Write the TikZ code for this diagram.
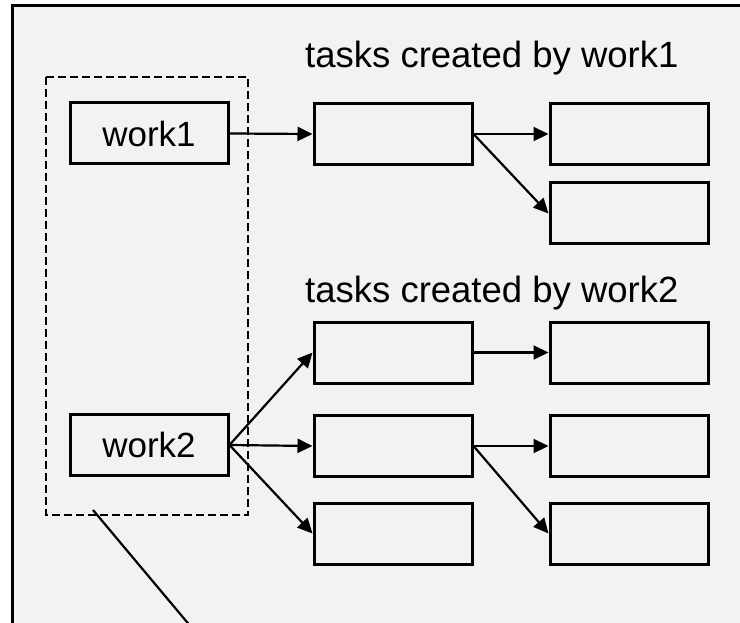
\documentclass[tikz,border=0pt]{standalone}
\usepackage{fontspec}
\setmainfont{Liberation Sans}
\usetikzlibrary{arrows.meta}
\definecolor{panel}{RGB}{242,242,242}
\begin{document}
\begin{tikzpicture}[x=1pt,y=-1pt,
  box/.style={draw, line width=3pt, minimum width=158pt, minimum height=61pt, inner sep=0pt, font=\fontsize{35}{40}\selectfont},
  conn/.style={line width=2.2pt, -{Triangle[length=15pt,width=14pt]}},
  lbl/.style={anchor=base west, inner sep=0pt, font=\fontsize{36.5}{42}\selectfont}]
\useasboundingbox (0,0) rectangle (740,623);
\clip (0,0) rectangle (740,623);
\fill[white] (0,0) rectangle (740,623);
% outer panel: only its left and top edges fall inside the picture
\fill[panel] (12,6) rectangle (740,623);
\draw[line width=3pt] (12,640) -- (12,6) -- (760,6);
% dashed group
\draw[line width=2.5pt, dash pattern=on 8pt off 4pt] (46,77) rectangle (248,515);
% work boxes
\node[box] (w1) at (149,133.5) {work1};
\node[box] (w2) at (149,445) {work2};
% titles
\node[lbl] (t1) at (305,68) {tasks created by work1};
\node[lbl] (t2) at (305,302) {tasks created by work2};
% task boxes group 1
\node[box] (m1) at (393,134) {};
\node[box] (r1) at (629,134) {};
\node[box] (r2) at (629,213.5) {};
% task boxes group 2
\node[box] (m2a) at (393,352.5) {};
\node[box] (m2b) at (393,446) {};
\node[box] (m2c) at (393,533.5) {};
\node[box] (r2a) at (629,352.5) {};
\node[box] (r2b) at (629,446) {};
\node[box] (r2c) at (629,533.5) {};
% connectors
\draw[conn] (w1.east) -- (m1.west);
\draw[conn] (m1.east) -- (r1.west);
\draw[conn] (m1.east) -- (r2.west);
\draw[conn] (w2.east) -- (m2a.west);
\draw[conn] (w2.east) -- (m2b.west);
\draw[conn] (w2.east) -- (m2c.west);
\draw[conn] (m2a.east) -- (r2a.west);
\draw[conn] (m2b.east) -- (r2b.west);
\draw[conn] (m2b.east) -- (r2c.west);
% pointer line leaving the dashed group
\coordinate (p1) at (93,510);
\coordinate (p2) at (202,640);
\draw[line width=2.2pt] (p1) -- (p2);
\end{tikzpicture}
\end{document}
